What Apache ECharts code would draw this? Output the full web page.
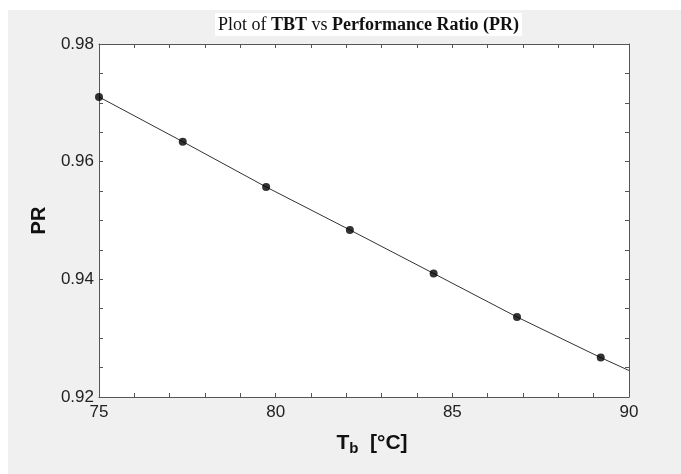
<!DOCTYPE html>
<html>
<head>
<meta charset="utf-8">
<script src="https://cdn.jsdelivr.net/npm/echarts@6/dist/echarts.min.js"></script>
<style>
  html, body { margin: 0; padding: 0; background: #fff; }
  #main { width: 681px; height: 474px; }
</style>
</head>
<body>
<div id="main"></div>
<script>
// data
const tb = [75, 77.37, 79.73, 82.1, 84.47, 86.83, 89.2];
const pr = [0.9710, 0.9634, 0.9557, 0.9484, 0.9410, 0.9336, 0.9267];
// fitted line continues to the right edge of the plot
const lineEndX = 90;
const lineEndY = 0.9245;

const xTicks = [75, 80, 85, 90];
const yTicks = [0.92, 0.94, 0.96, 0.98];

const points = tb.map((x, i) => [x, pr[i]]);
const lineData = points.concat([[lineEndX, lineEndY]]);

const chart = echarts.init(document.getElementById('main'));

const axisColor = '#555';
const sans = 'Liberation Sans, Arial, sans-serif';
const serif = 'Liberation Serif, Times New Roman, serif';
const labelFont = { color: '#222', fontSize: 17, fontFamily: sans };

function xAxis(pos, show) {
    return {
        type: 'value', position: pos, min: 75, max: 90, interval: 1,
        axisLine: { show: true, onZero: false, lineStyle: { color: axisColor, width: 1 } },
        axisTick: { show: true, inside: true, length: 4, lineStyle: { color: axisColor } },
        axisLabel: {
            show: show, margin: 7, ...labelFont,
            formatter: v => (xTicks.indexOf(v) >= 0 ? String(v) : '')
        },
        splitLine: { show: false }
    };
}

function yAxis(pos, show) {
    return {
        type: 'value', position: pos, min: 0.92, max: 0.98, interval: 0.005,
        axisLine: { show: true, onZero: false, lineStyle: { color: axisColor, width: 1 } },
        axisTick: { show: true, inside: true, length: 4, lineStyle: { color: axisColor } },
        axisLabel: {
            show: show, margin: 5, ...labelFont,
            formatter: v => {
                const r = Math.round(v * 1000) / 1000;
                return yTicks.some(t => Math.abs(t - r) < 1e-9) ? r.toFixed(2) : '';
            }
        },
        splitLine: { show: false }
    };
}

chart.setOption({
    backgroundColor: '#fff',
    animation: false,
    graphic: [{
        type: 'rect', z: -10, silent: true,
        shape: { x: 8, y: 10, width: 673, height: 464 },
        style: { fill: '#f0f0f0' }
    }],
    title: {
        text: '{n|Plot of }{b|TBT}{n| vs }{b|Performance Ratio (PR)}',
        left: 215, top: 13,
        padding: [3, 3, 2, 3],
        backgroundColor: '#fff',
        textStyle: {
            rich: {
                n: { fontFamily: serif, fontSize: 18, fontWeight: 'normal', color: '#111' },
                b: { fontFamily: serif, fontSize: 18, fontWeight: 'bold', color: '#111' }
            }
        }
    },
    grid: { left: 99, right: 52, top: 44, bottom: 77, show: true, backgroundColor: '#fff', borderWidth: 0 },
    xAxis: [
        Object.assign(xAxis('bottom', true), {
            name: '{t|T}{s|b}{t|  [°C]}',
            nameLocation: 'middle', nameGap: 34,
            nameTextStyle: {
                padding: [0, 0, 0, 16],
                rich: {
                    t: { fontSize: 21, fontWeight: 'bold', color: '#111', fontFamily: sans },
                    s: { fontSize: 15, fontWeight: 'bold', color: '#111', fontFamily: sans, padding: [10, 0, 0, 0] }
                }
            }
        }),
        xAxis('top', false)
    ],
    yAxis: [
        Object.assign(yAxis('left', true), {
            name: 'PR', nameLocation: 'middle', nameGap: 50,
            nameTextStyle: { fontSize: 20, fontWeight: 'bold', color: '#111', fontFamily: sans }
        }),
        yAxis('right', false)
    ],
    series: [
        {
            type: 'line', data: lineData, showSymbol: false, symbol: 'none',
            lineStyle: { color: '#333', width: 1 }, z: 2
        },
        {
            type: 'scatter', data: points, symbol: 'circle', symbolSize: 8,
            itemStyle: { color: '#000' }, z: 3
        }
    ]
});
</script>
</body>
</html>
